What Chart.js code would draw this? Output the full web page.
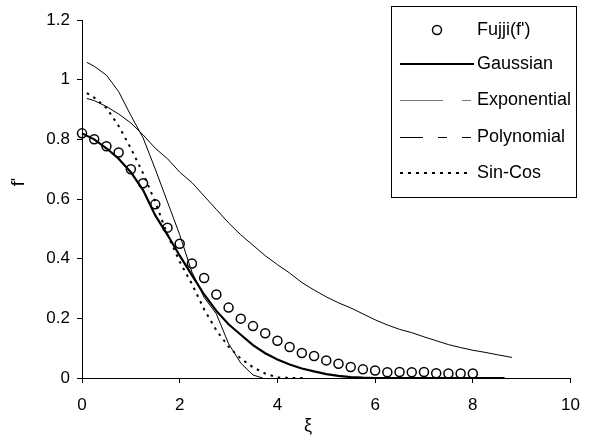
<!DOCTYPE html>
<html><head><meta charset="utf-8">
<script src="https://cdn.jsdelivr.net/npm/chart.js@4"></script>
<style>html,body{margin:0;padding:0;background:#fff}</style>
</head><body>
<canvas id="c" width="592" height="441"></canvas>
<script>
const seriesNames = ["Fujji(f')", "Gaussian", "Exponential", "Polynomial", "Sin-Cos"];
const xTicks = [0, 2, 4, 6, 8, 10];
const yTicks = [0, 0.2, 0.4, 0.6, 0.8, 1, 1.2];
const xTitle = "ξ";
const yTitle = "f'";

const fujjiXi = [0,0.25,0.5,0.75,1,1.25,1.5,1.75,2,2.25,2.5,2.75,3,3.25,3.5,3.75,4,4.25,4.5,4.75,5,5.25,5.5,5.75,6,6.25,6.5,6.75,7,7.25,7.5,7.75,8];
const fujjiF  = [0.82,0.80,0.777,0.756,0.70,0.653,0.582,0.504,0.450,0.384,0.335,0.28,0.236,0.199,0.174,0.150,0.125,0.104,0.084,0.074,0.059,0.048,0.037,0.029,0.025,0.019,0.02,0.019,0.02,0.016,0.015,0.015,0.015];

const gaussXi = [0,0.25,0.5,0.75,1,1.25,1.5,1.75,2,2.25,2.5,2.75,3,3.25,3.5,3.75,4,4.25,4.5,4.75,5,5.25,5.5,5.75,6,7,8,8.65];
const gaussF  = [0.82,0.80,0.77,0.735,0.69,0.63,0.545,0.48,0.41,0.345,0.28,0.225,0.18,0.145,0.11,0.083,0.062,0.045,0.032,0.022,0.013,0.007,0.003,0.001,0,0,0,0];

const expXi = [0.1,0.25,0.5,0.75,1,1.25,1.5,1.75,2,2.25,2.5,2.75,3,3.25,3.5,3.75,4,4.25,4.5,4.75,5,5.25,5.5,5.75,6,6.25,6.5,6.75,7,7.25,7.5,7.75,8,8.25,8.5,8.8];
const expF  = [0.937,0.93,0.91,0.885,0.855,0.815,0.77,0.735,0.69,0.655,0.61,0.565,0.52,0.48,0.445,0.41,0.38,0.352,0.32,0.295,0.272,0.252,0.235,0.215,0.195,0.178,0.163,0.152,0.138,0.125,0.112,0.102,0.093,0.086,0.078,0.069];

const polyXi = [0.1,0.25,0.5,0.75,1,1.25,1.5,1.75,2,2.25,2.5,2.75,3,3.25,3.5,3.7];
const polyF  = [1.058,1.045,1.015,0.96,0.88,0.805,0.70,0.59,0.48,0.355,0.27,0.215,0.115,0.05,0.01,0];

const sinXi = [0.1,0.25,0.5,0.75,1,1.25,1.5,1.75,2,2.25,2.5,2.75,3,3.25,3.5,3.75,4,4.3,4.6];
const sinF  = [0.955,0.94,0.905,0.845,0.77,0.686,0.59,0.48,0.39,0.315,0.23,0.16,0.105,0.065,0.036,0.015,0.002,0,0];

const FONT = '"Liberation Sans", Arial, sans-serif';
function pts(xs, ys) { return xs.map((x, i) => ({ x: x, y: ys[i] })); }

const overlay = {
  id: 'overlay',
  afterDraw(chart) {
    const ctx = chart.ctx;
    ctx.save();
    // axis titles
    ctx.fillStyle = '#000';
    ctx.font = '18px ' + FONT;
    ctx.textAlign = 'center';
    ctx.textBaseline = 'middle';
    ctx.fillText(xTitle, 308, 426);
    ctx.save();
    ctx.translate(19, 182);
    ctx.rotate(-Math.PI / 2);
    ctx.fillText(yTitle, 0, 0);
    ctx.restore();

    // legend box
    const L = 391.5, T = 6.5, R = 576.5, B = 197.5;
    ctx.fillStyle = '#fff';
    ctx.fillRect(L, T, R - L, B - T);
    ctx.strokeStyle = '#000';
    ctx.lineWidth = 1;
    ctx.strokeRect(L, T, R - L, B - T);

    const ys = [30, 64, 100, 137, 173];
    const seg = (x1, x2, y) => { ctx.beginPath(); ctx.moveTo(x1, y); ctx.lineTo(x2, y); ctx.stroke(); };
    // Fujji circle
    ctx.strokeStyle = '#000';
    ctx.lineWidth = 1.5;
    ctx.beginPath(); ctx.arc(437, ys[0], 4.5, 0, Math.PI * 2); ctx.stroke();
    // Gaussian
    ctx.lineWidth = 2;
    seg(400, 474, ys[1]);
    // Exponential
    ctx.lineWidth = 1;
    ctx.strokeStyle = '#7a7a7a';
    seg(400, 443, ys[2] + 0.5); seg(462, 471, ys[2] + 0.5);
    // Polynomial
    ctx.strokeStyle = '#000';
    seg(400, 423, ys[3] + 0.5); seg(438, 447, ys[3] + 0.5); seg(462, 471, ys[3] + 0.5);
    // Sin-Cos
    ctx.lineWidth = 2;
    ctx.setLineDash([3, 5]);
    seg(400, 471, ys[4]);
    ctx.setLineDash([]);

    ctx.fillStyle = '#000';
    ctx.font = '18px ' + FONT;
    ctx.textAlign = 'left';
    ctx.textBaseline = 'middle';
    seriesNames.forEach((n, i) => ctx.fillText(n, 477, ys[i]));
    ctx.restore();
  }
};

new Chart(document.getElementById('c'), {
  type: 'scatter',
  data: {
    datasets: [
      { label: seriesNames[1], data: pts(gaussXi, gaussF), showLine: true, borderColor: '#000', borderWidth: 2.2, pointRadius: 0, clip: false },
      { label: seriesNames[2], data: pts(expXi, expF), showLine: true, borderColor: '#000', borderWidth: 1, pointRadius: 0, clip: false },
      { label: seriesNames[3], data: pts(polyXi, polyF), showLine: true, borderColor: '#000', borderWidth: 1, pointRadius: 0, clip: false },
      { label: seriesNames[4], data: pts(sinXi, sinF), showLine: true, borderColor: '#000', borderWidth: 2, borderDash: [2.5, 5], pointRadius: 0, clip: false },
      { label: seriesNames[0], data: pts(fujjiXi, fujjiF), showLine: false, pointStyle: 'circle', pointRadius: 4.5, pointBorderWidth: 1.5, borderColor: '#000', backgroundColor: 'rgba(255,255,255,0)', clip: false }
    ]
  },
  options: {
    responsive: false,
    animation: false,
    layout: { padding: { top: 20, right: 21, left: 0, bottom: 0 } },
    plugins: { legend: { display: false }, tooltip: { enabled: false } },
    scales: {
      x: {
        type: 'linear', min: 0, max: 10,
        afterBuildTicks: s => { s.ticks = xTicks.map(v => ({ value: v })); },
        afterFit: s => { s.height = 63; },
        grid: { drawOnChartArea: false, drawTicks: true, tickLength: 5, color: '#000', lineWidth: 1 },
        border: { color: '#000', width: 1 },
        ticks: { color: '#000', font: { family: FONT, size: 17 }, padding: 12, maxRotation: 0, callback: v => String(v) }
      },
      y: {
        type: 'linear', min: 0, max: 1.2,
        afterBuildTicks: s => { s.ticks = yTicks.map(v => ({ value: v })); },
        afterFit: s => { s.width = 82; },
        grid: { drawOnChartArea: false, drawTicks: true, tickLength: 5, color: '#000', lineWidth: 1 },
        border: { color: '#000', width: 1 },
        ticks: { color: '#000', font: { family: FONT, size: 17 }, padding: 7, callback: v => String(+v.toFixed(1)) }
      }
    }
  },
  plugins: [overlay]
});
</script>
</body></html>
